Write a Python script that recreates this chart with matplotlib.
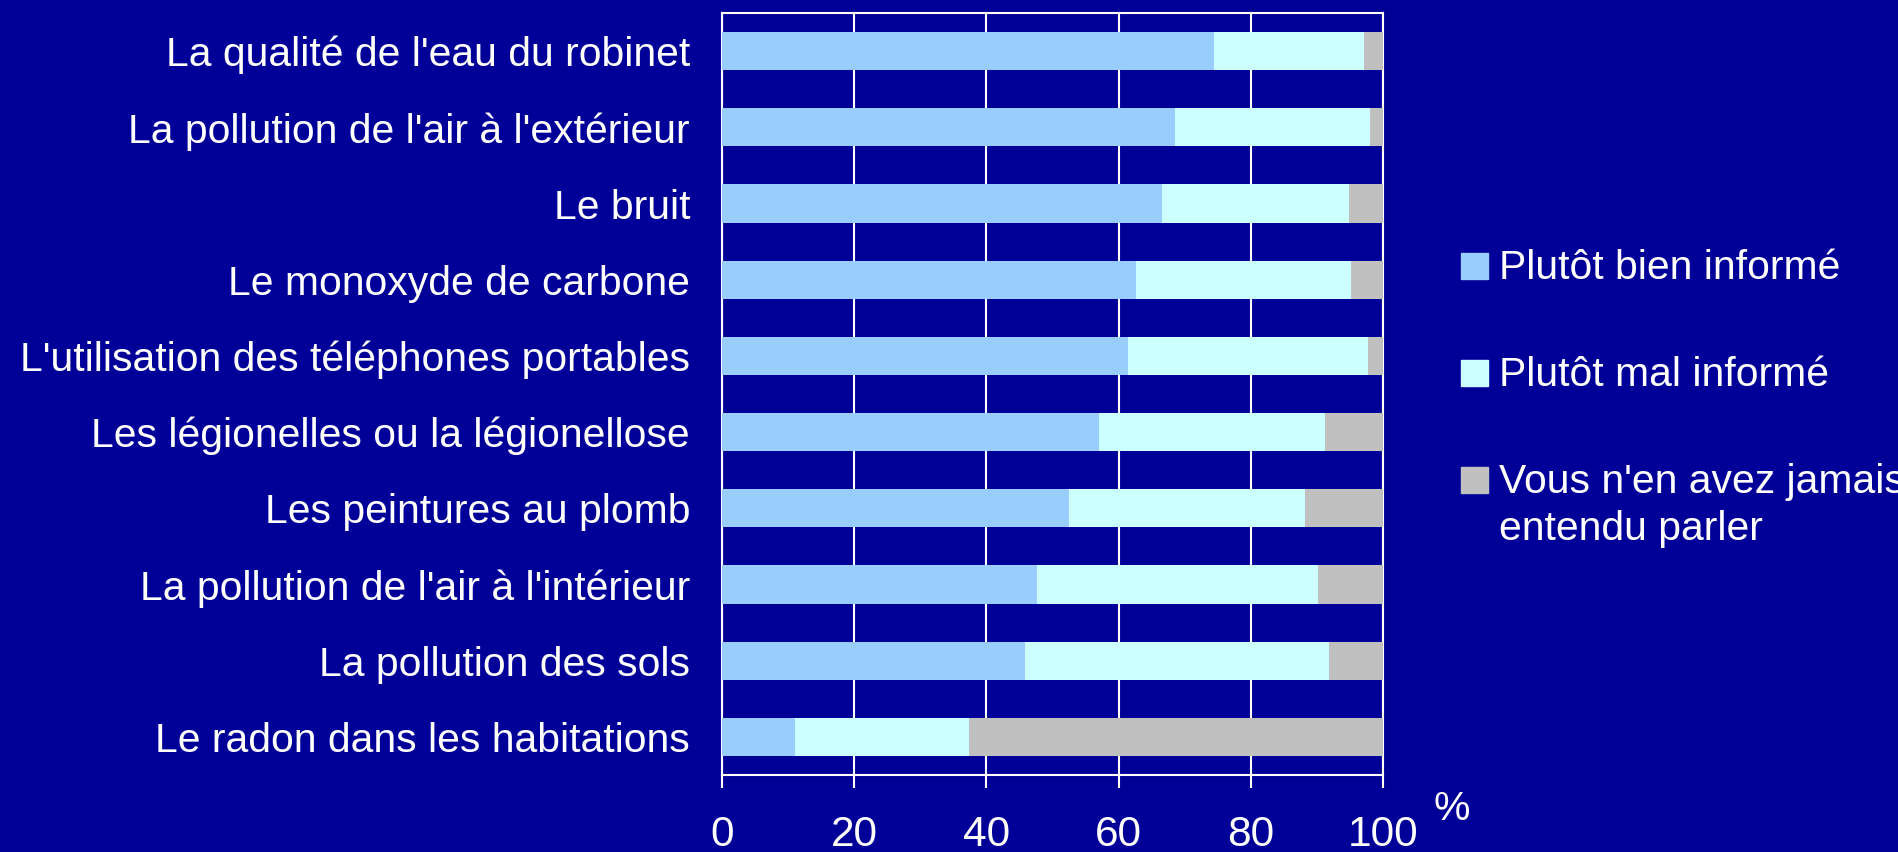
import matplotlib
matplotlib.use("Agg")
import matplotlib.pyplot as plt
from matplotlib.patches import Rectangle
import numpy as np

categories = [
    "La qualité de l'eau du robinet",
    "La pollution de l'air à l'extérieur",
    "Le bruit",
    "Le monoxyde de carbone",
    "L'utilisation des téléphones portables",
    "Les légionelles ou la légionellose",
    "Les peintures au plomb",
    "La pollution de l'air à l'intérieur",
    "La pollution des sols",
    "Le radon dans les habitations",
]
bien_informe = [74.4, 68.5, 66.5, 62.6, 61.4, 57.0, 52.5, 47.6, 45.9, 11.1]
mal_informe = [22.7, 29.5, 28.4, 32.5, 36.3, 34.2, 35.7, 42.5, 45.9, 26.2]
jamais = [2.9, 2.0, 5.1, 4.9, 2.3, 8.8, 11.8, 9.9, 8.2, 62.7]
series_labels = [
    "Plutôt bien informé",
    "Plutôt mal informé",
    "Vous n'en avez jamais\nentendu parler",
]
x_ticks = [0, 20, 40, 60, 80, 100]

BG = "#000099"
COLORS = ["#99CCFF", "#CCFFFF", "#C0C0C0"]
W, H = 1898, 852

plt.rcParams["font.family"] = ["Liberation Sans", "DejaVu Sans"]

fig = plt.figure(figsize=(W / 100, H / 100), dpi=100, facecolor=BG)
ax = fig.add_axes([0.3804, 0.0904, 0.7287 - 0.3804, 0.9847 - 0.0904])
ax.set_facecolor(BG)

y = np.arange(len(categories))
left = np.zeros(len(categories))
for vals, color, label in zip([bien_informe, mal_informe, jamais], COLORS, series_labels):
    ax.barh(y, vals, height=0.5, left=left, color=color, label=label, zorder=3)
    left += np.array(vals)

ax.set_ylim(len(categories) - 0.5, -0.5)
ax.set_xlim(0, 100)
ax.set_yticks(y)
ax.set_yticklabels(categories, fontsize=29.4, color="white")
ax.tick_params(axis="y", length=0, pad=23)
ax.set_xticks(x_ticks)
ax.set_xticklabels([str(t) for t in x_ticks], fontsize=30.5, color="white")
ax.tick_params(axis="x", length=9.5, width=1.5, color="white", pad=19)

ax.grid(axis="x", color="white", linewidth=1.5, zorder=1)
for side in ["left", "right", "top", "bottom"]:
    ax.spines[side].set_color("white")
    ax.spines[side].set_linewidth(1.5)

fig.text(1452 / W, 1 - 809 / H, "%", fontsize=29.4, color="white",
         ha="center", va="center")

# legend drawn by hand so the square sits next to the first line of each label
legend_top = [253, 360, 467]
line_gap = 47  # px between baselines of a wrapped label
for top, color, label in zip(legend_top, COLORS, series_labels):
    fig.add_artist(Rectangle((1461 / W, 1 - (top + 26) / H), 27 / W, 26 / H,
                             transform=fig.transFigure, color=color))
    n_extra = label.count("\n")
    fig.text(1499 / W, 1 - (top + 26 + line_gap * n_extra) / H, label,
             fontsize=29.4, color="white", ha="left", va="baseline",
             linespacing=1.31)

fig.savefig("out.png", dpi=100, facecolor=BG)
